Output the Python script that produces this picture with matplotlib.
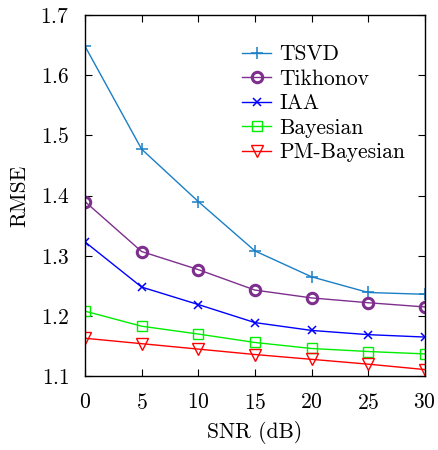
import matplotlib
matplotlib.use("Agg")
import matplotlib.pyplot as plt

plt.rcParams["font.family"] = "serif"
plt.rcParams["font.serif"] = ["cmr10", "DejaVu Serif"]
plt.rcParams["mathtext.fontset"] = "cm"
plt.rcParams["axes.formatter.use_mathtext"] = True

snr = [0, 5, 10, 15, 20, 25, 30]
tsvd = [1.648, 1.477, 1.390, 1.308, 1.265, 1.239, 1.236]
tikhonov = [1.390, 1.307, 1.277, 1.243, 1.230, 1.222, 1.215]
iaa = [1.323, 1.248, 1.219, 1.189, 1.176, 1.169, 1.165]
bayesian = [1.208, 1.183, 1.170, 1.156, 1.146, 1.141, 1.137]
pm_bayesian = [1.163, 1.154, 1.145, 1.136, 1.128, 1.120, 1.111]

fig = plt.figure(figsize=(4.38, 4.5), dpi=100)
ax = fig.add_axes([0.194, 0.164, 0.776, 0.803])

ax.plot(snr, tsvd, color="#1a7fc6", lw=1.0, marker="+", ms=8, mew=1.1, label="TSVD")
ax.plot(snr, tikhonov, color="#7e2f8e", lw=1.0, marker="o", ms=7.5, mew=2.2,
        mfc="none", label="Tikhonov")
ax.plot(snr, iaa, color="#0000ff", lw=1.0, marker="x", ms=5.5, mew=1.1, label="IAA")
ax.plot(snr, bayesian, color="#00ee00", lw=1.0, marker="s", ms=6.5, mew=1.0,
        mfc="none", label="Bayesian")
ax.plot(snr, pm_bayesian, color="#ff0000", lw=1.0, marker="v", ms=8, mew=1.0,
        mfc="none", label="PM-Bayesian")

ax.set_xlim(0, 30)
ax.set_ylim(1.1, 1.7)
ax.set_xticks(snr)
ax.set_yticks([1.1, 1.2, 1.3, 1.4, 1.5, 1.6, 1.7])
ax.tick_params(direction="in", top=True, right=True, length=5, labelsize=15.5)
ax.tick_params(axis="x", pad=12)
ax.tick_params(axis="y", pad=11)
for s in ax.spines.values():
    s.set_linewidth(1.0)
ax.set_xlabel("SNR (dB)", fontsize=15.5, labelpad=6)
ax.set_ylabel("RMSE", fontsize=15.5, labelpad=8)

ax.legend(loc="upper left", frameon=False, fontsize=15.5, handlelength=1.35,
          handletextpad=0.4, labelspacing=0.23, borderaxespad=0, borderpad=0,
          bbox_to_anchor=(0.462, 0.917))

fig.savefig("out.png", dpi=100)
